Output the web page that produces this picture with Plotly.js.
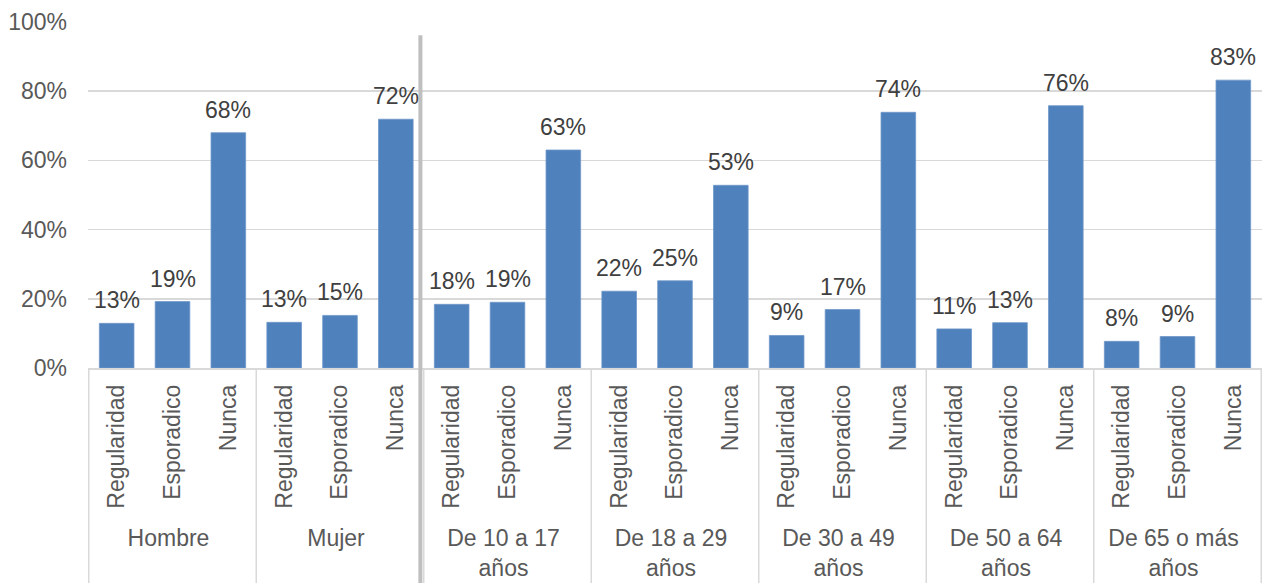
<!DOCTYPE html>
<html>
<head>
<meta charset="utf-8">
<script src="https://cdn.plot.ly/plotly-3.0.1.min.js"></script>
<style>html,body{margin:0;padding:0;background:#fff;}#chart{width:1264px;height:583px;}</style>
</head>
<body>
<div id="chart"></div>
<script>
const groups = ["Hombre", "Mujer", "De 10 a 17<br>años", "De 18 a 29<br>años", "De 30 a 49<br>años", "De 50 a 64<br>años", "De 65 o más<br>años"];
const subcats = ["Regularidad", "Esporadico", "Nunca"];
const hombre = [12.9, 19.2, 68.0];
const mujer = [13.2, 15.2, 71.9];
const edad10a17 = [18.4, 19.0, 63.0];
const edad18a29 = [22.2, 25.2, 52.8];
const edad30a49 = [9.4, 16.9, 73.9];
const edad50a64 = [11.3, 13.1, 75.8];
const edad65mas = [7.7, 9.1, 83.2];
const seriesByGroup = [hombre, mujer, edad10a17, edad18a29, edad30a49, edad50a64, edad65mas];

const xg = [], xc = [], yv = [];
groups.forEach((g, gi) => {
  subcats.forEach((c, ci) => {
    xg.push(g); xc.push(c); yv.push(seriesByGroup[gi][ci]);
  });
});

const font = "Liberation Sans, Arial, sans-serif";
const fs = 23;
const trace = {
  type: "bar",
  x: [xg, xc],
  y: yv,
  marker: {color: "#4F81BD", line: {color: "#6f97c9", width: 0.8}},
  hoverinfo: "skip"
};

const annotations = yv.map((v, i) => ({
  x: i, y: v, xref: "x", yref: "y",
  text: Math.round(v) + "%",
  showarrow: false, yanchor: "bottom", yshift: 8,
  font: {family: font, size: fs, color: "#404040"}
}));

// group divider lines from the axis to the bottom edge
const shapes = [];
for (let g = 0; g <= groups.length; g++) {
  shapes.push({
    type: "line", xref: "x", yref: "paper",
    x0: g * subcats.length - 0.5, x1: g * subcats.length - 0.5,
    y0: 0, y1: -0.65,
    line: {color: "#d9d9d9", width: 1.5}
  });
}
shapes.push({
  type: "line", xref: "x", yref: "paper",
  x0: 5.44, x1: 5.44, y0: 0.962, y1: -0.65,
  line: {color: "#bfbfbf", width: 4}
});

const layout = {
  width: 1264, height: 583,
  margin: {l: 88, r: 2, t: 22, b: 215},
  paper_bgcolor: "#fff", plot_bgcolor: "#fff",
  showlegend: false,
  bargap: 0.38,
  font: {family: font, size: fs, color: "#595959"},
  xaxis: {
    type: "multicategory",
    tickangle: -90,
    tickfont: {family: font, size: fs, color: "#595959"},
    showline: true, linecolor: "#d9d9d9", linewidth: 1.5,
    showdividers: false,
    ticks: "", showgrid: false, zeroline: false,
    ticklabelstandoff: 6
  },
  yaxis: {
    range: [0, 100],
    tickvals: [0, 20, 40, 60, 80, 100],
    ticktext: ["0%", "20%", "40%", "60%", "80%", "100%"],
    tickfont: {family: font, size: fs, color: "#595959"},
    showgrid: true, gridcolor: "#d9d9d9", gridwidth: 1.5,
    zeroline: false, showline: false, ticks: "",
    ticklabelstandoff: 20
  },
  shapes: shapes,
  annotations: annotations
};

Plotly.newPlot("chart", [trace], layout, {displayModeBar: false, staticPlot: true});
</script>
</body>
</html>
